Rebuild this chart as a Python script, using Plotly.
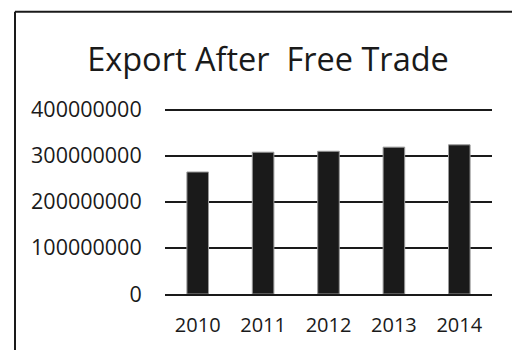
import plotly.graph_objects as go

years = ["2010", "2011", "2012", "2013", "2014"]
exports = [265000000, 308000000, 310000000, 319000000, 324000000]
y_ticks = [0, 100000000, 200000000, 300000000, 400000000]
title_text = "Export After  Free Trade"

W, H = 512, 350
y_top_px, y_zero_px = 109.5, 296.5
y_max = 404000000
px_per_unit = (y_zero_px - y_top_px) / 400000000
T = y_zero_px - y_max * px_per_unit
L, R, B = 165, 20, H - y_zero_px
pw, ph = W - L - R, H - T - B

def px_x(x):
    return (x - L) / pw

def px_y(y):
    return (H - B - y) / ph

fig = go.Figure(go.Bar(
    x=years, y=exports,
    marker=dict(color="#1a1a1a", line=dict(color="#999999", width=1)),
    width=0.33,
))

font = "Open Sans, Liberation Sans, sans-serif"
fig.update_layout(
    width=W, height=H,
    margin=dict(l=L, r=R, t=T, b=B),
    paper_bgcolor="white", plot_bgcolor="white",
    showlegend=False,
    title=dict(text=title_text, x=268 / W, xanchor="center", y=1 - 60 / H, yanchor="middle",
               font=dict(family=font, size=32.5, color="#1a1a1a")),
    font=dict(family=font, color="#1a1a1a"),
)
fig.update_yaxes(
    range=[0, y_max], tickvals=y_ticks, ticktext=[str(v) for v in y_ticks],
    showgrid=True, gridcolor="#1a1a1a", gridwidth=2,
    zeroline=False, showline=False,
    ticks="outside", ticklen=18, tickcolor="white",
    tickfont=dict(family=font, size=21.5, color="#1a1a1a"),
)
fig.update_xaxes(
    showline=True, linecolor="#1a1a1a", linewidth=2,
    ticks="outside", ticklen=12, tickcolor="white",
    tickfont=dict(family=font, size=20, color="#1a1a1a"),
)
fig.add_shape(type="line", xref="paper", yref="paper",
              x0=px_x(15), x1=px_x(15), y0=px_y(360), y1=px_y(10),
              line=dict(color="#1a1a1a", width=2))
fig.add_shape(type="line", xref="paper", yref="paper",
              x0=px_x(15), x1=px_x(520), y0=px_y(10), y1=px_y(10),
              line=dict(color="#1a1a1a", width=2))

fig.write_html("out.html")
